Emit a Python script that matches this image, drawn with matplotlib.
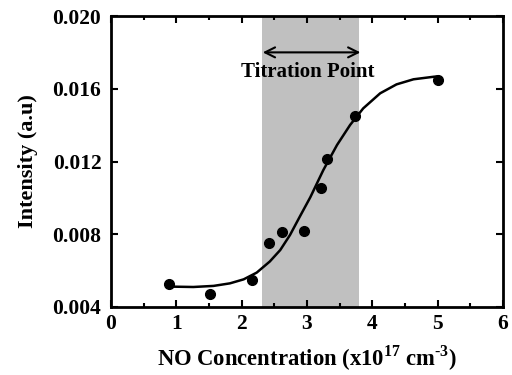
import matplotlib
matplotlib.use('Agg')
import matplotlib.pyplot as plt
from matplotlib.ticker import MultipleLocator

plt.rcParams['font.family'] = 'Liberation Serif'
plt.rcParams['font.weight'] = 'bold'
plt.rcParams['mathtext.fontset'] = 'custom'
plt.rcParams['mathtext.rm'] = 'Liberation Serif:bold'
plt.rcParams['mathtext.bf'] = 'Liberation Serif:bold'

# measured points
conc = [0.89, 1.52, 2.16, 2.42, 2.61, 2.95, 3.21, 3.30, 3.73, 5.0]
intensity = [0.00527, 0.00470, 0.00548, 0.00754, 0.00812, 0.00818,
             0.01052, 0.01214, 0.01452, 0.01650]

# fitted curve
fit_x = [0.93, 1.26, 1.57, 1.82, 2.03, 2.23, 2.43, 2.59, 2.74, 2.89, 3.05,
         3.25, 3.46, 3.66, 3.86, 4.12, 4.37, 4.63, 4.94, 5.0]
fit_y = [0.00512, 0.00510, 0.00516, 0.00530, 0.00552, 0.00589, 0.00650,
         0.00713, 0.00796, 0.00897, 0.01003, 0.01153, 0.01291, 0.01401,
         0.01492, 0.01575, 0.01624, 0.01652, 0.01666, 0.01668]

# titration window
band = [2.31, 3.80]
arrow_x = [2.28, 3.86]

fig = plt.figure(figsize=(5.12, 3.75), dpi=100)
ax = fig.add_axes([111/512, 1 - 307/375, 392/512, 291/375])

ax.axvspan(band[0], band[1], color='#c0c0c0', lw=0, zorder=0)
ax.plot(fit_x, fit_y, color='black', lw=1.8, zorder=2)
ax.plot(conc, intensity, 'o', color='black', ms=7, zorder=3)

ax.annotate('', xy=(arrow_x[0], 0.0180), xytext=(arrow_x[1], 0.0180),
            arrowprops=dict(arrowstyle='<->', lw=1.5, color='black',
                            mutation_scale=18))
ax.text(3.01, 0.01694, 'Titration Point', ha='center', va='center',
        fontsize=15, fontweight='bold')

ax.set_xlim(0, 6)
ax.set_ylim(0.004, 0.020)
ax.xaxis.set_major_locator(MultipleLocator(1))
ax.xaxis.set_minor_locator(MultipleLocator(0.5))
ax.yaxis.set_major_locator(MultipleLocator(0.004))
ax.yaxis.set_major_formatter(plt.FuncFormatter(lambda v, p: '%.3f' % v))
ax.tick_params(which='both', direction='in', top=True, right=True,
               labelsize=15.5, width=1.5)
ax.tick_params(which='major', length=5)
ax.tick_params(which='minor', length=3)
ax.tick_params(axis='y', pad=7)
ax.tick_params(axis='x', pad=5)
for s in ax.spines.values():
    s.set_linewidth(2)

ax.set_xlabel(r'NO Concentration (x10$^{17}$ cm$^{\text{-3}}$)', fontsize=16.3,
              fontweight='bold', labelpad=7)
ax.set_ylabel('Intensity (a.u)', fontsize=16, fontweight='bold', labelpad=10)

fig.savefig('out.png', dpi=100)
